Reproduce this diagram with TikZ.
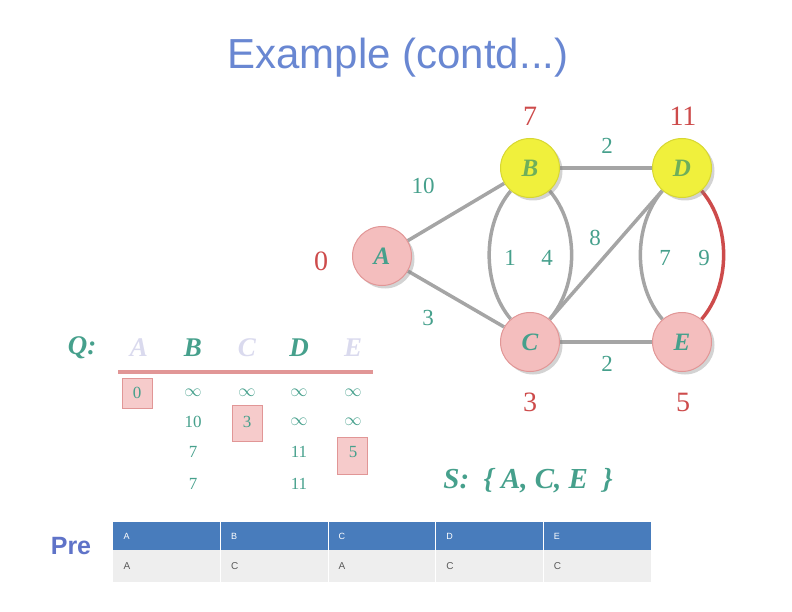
\documentclass[tikz,border=0pt]{standalone}
\usepackage{fontspec}
\setmainfont{Liberation Serif}
\setsansfont{Liberation Sans}
\usetikzlibrary{shadows}
\pgfdeclarelayer{background}
\pgfsetlayers{background,main}
\definecolor{titleblue}{RGB}{105,135,210}
\definecolor{teal}{RGB}{70,160,140}
\definecolor{dred}{RGB}{205,75,75}
\definecolor{pinkfill}{RGB}{244,190,190}
\definecolor{pinkdraw}{RGB}{225,150,150}
\definecolor{yell}{RGB}{240,240,60}
\definecolor{yelldraw}{RGB}{215,215,50}
\definecolor{nodegreen}{RGB}{110,175,90}
\definecolor{edgegray}{RGB}{165,165,165}
\definecolor{faded}{RGB}{218,218,238}
\definecolor{hdrblue}{RGB}{72,124,188}
\definecolor{rowgray}{RGB}{238,238,238}
\definecolor{txtgray}{RGB}{90,90,90}
\definecolor{preblue}{RGB}{95,115,200}
\tikzset{
  vtx/.style={circle, minimum size=59pt, inner sep=0pt, font=\fontsize{25}{27}\selectfont\itshape\bfseries,
    drop shadow={shadow xshift=3pt, shadow yshift=-3pt, opacity=0.35}},
  pinkv/.style={vtx, fill=pinkfill, draw=pinkdraw, line width=1pt, text=teal},
  yellv/.style={vtx, fill=yell, draw=yelldraw, line width=1pt, text=nodegreen},
  edge/.style={draw=edgegray, line width=3.5pt},
  redge/.style={draw=dred, line width=3.5pt},
  wlab/.style={text=teal, font=\fontsize{23}{25}\selectfont},
  dlab/.style={text=dred, font=\fontsize{28}{30}\selectfont},
  qhead/.style={font=\fontsize{27}{29}\selectfont\itshape\bfseries},
  qnum/.style={text=teal, font=\fontsize{17}{19}\selectfont},
  hl/.style={fill=pinkfill!80, draw=pinkdraw, line width=1pt},
  hcell/.style={text=white, font=\sffamily\fontsize{9}{10}\selectfont, anchor=west},
  rcell/.style={text=txtgray, font=\sffamily\fontsize{10}{11}\selectfont, anchor=west}
}
\begin{document}
\begin{tikzpicture}[x=1pt, y=-1pt]
\useasboundingbox (0,0) rectangle (792,612);

% title
\node[text=titleblue, font=\sffamily\fontsize{42}{46}\selectfont] (title) at (398,58) {Example (contd...)};

% nodes
\node[pinkv] (A) at (382,256) {A};
\node[yellv] (B) at (530,168) {B};
\node[pinkv] (C) at (530,342) {C};
\node[yellv] (D) at (682,168) {D};
\node[pinkv] (E) at (682,342) {E};

% edges (behind nodes)
\begin{pgfonlayer}{background}
\draw[edge] (A) -- (B);
\draw[edge] (A) -- (C);
\draw[edge] (B) -- (D);
\draw[edge] (C) -- (E);
\draw[edge] (B) .. controls (482,225) and (482,285) .. (C);
\draw[edge] (B) .. controls (579,225) and (579,285) .. (C);
\draw[edge] (C) -- (D);
\draw[edge] (D) .. controls (633,225) and (633,285) .. (E);
\draw[redge] (D) .. controls (731,225) and (731,285) .. (E);
\end{pgfonlayer}

% distance labels
\node[dlab] (dA) at (321,261) {0};
\node[dlab] (dB) at (530,116) {7};
\node[dlab] (dD) at (683,116) {11};
\node[dlab] (dC) at (530,402) {3};
\node[dlab] (dE) at (683,402) {5};

% weights
\node[wlab] (w1) at (423,186) {10};
\node[wlab] (w2) at (428,318) {3};
\node[wlab] (w3) at (607,146) {2};
\node[wlab] (w4) at (607,364) {2};
\node[wlab] (w5) at (510,258) {1};
\node[wlab] (w6) at (547,258) {4};
\node[wlab] (w7) at (595,238) {8};
\node[wlab] (w8) at (665,258) {7};
\node[wlab] (w9) at (704,258) {9};

% Q table
\node[qhead, text=teal] (Q) at (82,348) {Q:};
\node[qhead, text=faded] (hA) at (139,348) {A};
\node[qhead, text=teal] (hB) at (193,348) {B};
\node[qhead, text=faded] (hC) at (247,348) {C};
\node[qhead, text=teal] (hD) at (299,348) {D};
\node[qhead, text=faded] (hE) at (353,348) {E};
\draw[draw=pinkdraw, line width=4pt] (118,372) coordinate (ql) -- (373,372) coordinate (qr);

\node[hl, minimum width=30pt, minimum height=30pt, inner sep=0pt] (bx1) at (137,393) {};
\node[hl, minimum width=30pt, minimum height=36pt, inner sep=0pt] (bx2) at (247,423) {};
\node[hl, minimum width=30pt, minimum height=37pt, inner sep=0pt] (bx3) at (352,456) {};

\node[qnum] (r1a) at (137,393) {0};
\node[qnum] (r1b) at (193,393) {$\infty$};
\node[qnum] (r1c) at (247,393) {$\infty$};
\node[qnum] (r1d) at (299,393) {$\infty$};
\node[qnum] (r1e) at (353,393) {$\infty$};
\node[qnum] (r2b) at (193,422) {10};
\node[qnum] (r2c) at (247,422) {3};
\node[qnum] (r2d) at (299,422) {$\infty$};
\node[qnum] (r2e) at (353,422) {$\infty$};
\node[qnum] (r3b) at (193,452) {7};
\node[qnum] (r3d) at (299,452) {11};
\node[qnum] (r3e) at (353,452) {5};
\node[qnum] (r4b) at (193,484) {7};
\node[qnum] (r4d) at (299,484) {11};

% S set
\node[text=teal, font=\fontsize{29}{31}\selectfont\itshape\bfseries] (S) at (528,481) {S:\ \ \{\ A,\ C,\ E\ \ \}};

% Pre table
\node[text=preblue, font=\sffamily\bfseries\fontsize{25}{27}\selectfont] (pre) at (71,546) {Pre};
\fill[hdrblue] (113,522) rectangle (651,550);
\fill[rowgray] (113,550) rectangle (651,582);
\foreach \i in {1,2,3,4}{
  \draw[white, line width=0.8pt] (113+107.6*\i,522) -- (113+107.6*\i,582);
}
\foreach \l [count=\i from 0] in {A,B,C,D,E}{
  \node[hcell] (h\l) at (120+107.6*\i,536) {\l};
}
\foreach \l [count=\i from 0] in {A,C,A,C,C}{
  \node[rcell] (p\i) at (120+107.6*\i,566) {\l};
}
\end{tikzpicture}
\end{document}
